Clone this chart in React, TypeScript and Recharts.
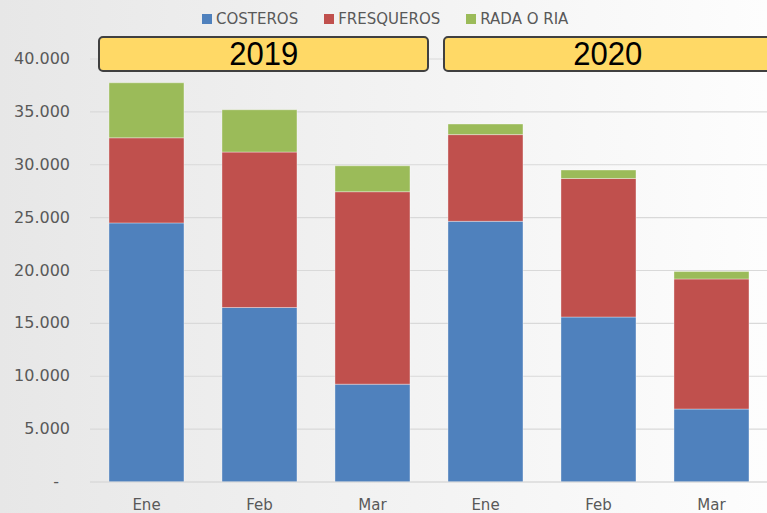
import React from 'react';
import { BarChart, Bar, XAxis, YAxis, CartesianGrid } from 'recharts';

// months, two years side by side
const months = ['Ene', 'Feb', 'Mar', 'Ene', 'Feb', 'Mar'];
const costeros = [24500, 16500, 9250, 24650, 15600, 6900];
const fresqueros = [8050, 14700, 18200, 8200, 13100, 12300];
const radaORia = [5200, 4000, 2450, 1000, 800, 700];
const yTicks = [0, 5000, 10000, 15000, 20000, 25000, 30000, 35000, 40000];
const years = ['2019', '2020'];

const seriesNames = ['COSTEROS', 'FRESQUEROS', 'RADA O RIA'];
const seriesColors = ['#4F81BD', '#C0504D', '#9BBB59'];

const data = months.map((m, i) => ({
  key: `${m}-${i}`,
  month: m,
  COSTEROS: costeros[i],
  FRESQUEROS: fresqueros[i],
  'RADA O RIA': radaORia[i],
}));

const FONT = "'DejaVu Sans', Verdana, sans-serif";
const TEXT = '#595959';

function fmt(v: number): string {
  if (v === 0) return '-';
  return v.toLocaleString('de-DE');
}

const YTick = ({ x, y, payload }: { x?: number; y?: number; payload?: { value: number } }) => {
  const v = payload?.value ?? 0;
  const label = fmt(v);
  return (
    <text x={v === 0 ? (x ?? 0) - 23 : (x ?? 0) - 12} y={(y ?? 0) + 5} textAnchor="end" fontSize={16} fill={TEXT} fontFamily={FONT}>
      {label}
    </text>
  );
};

export default function App() {
  return (
    <div
      style={{
        position: 'relative',
        width: 767,
        height: 513,
        overflow: 'hidden',
        background: 'linear-gradient(to right, #e7e7e7 0%, #f1f1f1 45%, #fdfdfd 100%)',
      }}
    >
      <style>{'body{margin:0}'}</style>

      {/* legend */}
      <div
        style={{
          position: 'absolute',
          top: 8,
          left: 202,
          display: 'flex',
          fontFamily: FONT,
          fontSize: 15,
          color: TEXT,
          lineHeight: '22px',
        }}
      >
        {seriesNames.map((n, i) => (
          <div key={n} style={{ display: 'flex', alignItems: 'center', marginRight: 26 }}>
            <span style={{ width: 10, height: 10, background: seriesColors[i], marginRight: 4, display: 'inline-block' }} />
            <span>{n}</span>
          </div>
        ))}
      </div>

      <BarChart
        width={767}
        height={513}
        data={data}
        margin={{ top: 59, right: -1, left: 0, bottom: 0 }}
        barCategoryGap="16.8%"
      >
        <CartesianGrid vertical={false} stroke="#d9d9d9" strokeWidth={1.2} />
        <XAxis
          dataKey="key"
          tickFormatter={(_v: string, i: number) => months[i]}
          tick={{ fontSize: 15, fill: TEXT, fontFamily: FONT, dy: 9 }}
          axisLine={{ stroke: '#d9d9d9', strokeWidth: 1.2 }}
          tickLine={false}
          height={31}
          interval={0}
        />
        <YAxis
          width={90}
          domain={[0, 40000]}
          ticks={yTicks}
          tick={<YTick />}
          axisLine={false}
          tickLine={false}
          interval={0}
        />
        {seriesNames.map((n, i) => (
          <Bar
            key={n}
            dataKey={n}
            stackId="a"
            fill={seriesColors[i]}
            stroke="#ffffff"
            strokeOpacity={0.35}
            strokeWidth={1}
            isAnimationActive={false}
          />
        ))}
      </BarChart>

      {/* year boxes */}
      {years.map((y, i) => (
        <div
          key={y}
          style={{
            position: 'absolute',
            top: 36,
            left: i === 0 ? 98 : 443,
            width: i === 0 ? 327 : 340,
            height: 32,
            background: '#FFD966',
            border: '2px solid #404040',
            borderRadius: 5,
            display: 'flex',
            alignItems: 'center',
            justifyContent: 'center',
            fontFamily: "'Liberation Sans', Arial, sans-serif",
            fontSize: 33,
            color: '#000',
          }}
        >
          <span style={{ marginLeft: i === 0 ? 0 : -14, display: 'inline-block', transform: 'scaleX(0.94)', lineHeight: '32px' }}>{y}</span>
        </div>
      ))}
    </div>
  );
}
